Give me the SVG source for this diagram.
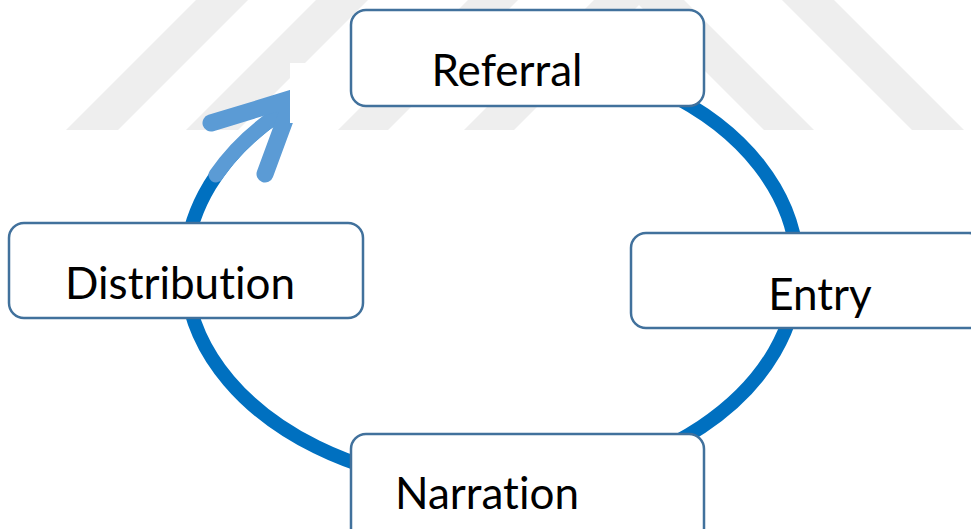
<svg xmlns="http://www.w3.org/2000/svg" width="971" height="529" viewBox="0 0 971 529">
  <style>
    .stripe { fill: #eeeeee; }
    .ring { fill: none; stroke: #0070C0; stroke-width: 14; }
    .ring-head { fill: none; stroke: #5B9BD5; stroke-linecap: round; stroke-linejoin: round; }
    .box { fill: #ffffff; stroke: #41719C; stroke-width: 2.5; }
    .label { font-family: Lato, "Liberation Sans", sans-serif; font-size: 44px; fill: #000000; text-anchor: middle; font-variant-ligatures: none; font-feature-settings: "liga" 0; }
  </style>

  <rect width="971" height="529" fill="#ffffff"/>

  <!-- faint diagonal background bands -->
  <g id="backdrop">
    <polygon class="stripe" points="196,0 248,0 118,130 66,130"/>
    <polygon class="stripe" points="316,0 368,0 238,130 186,130"/>
    <polygon class="stripe" points="468,0 518,0 388,130 338,130"/>
    <polygon class="stripe" points="594,0 644,0 514,130 464,130"/>
    <polygon class="stripe" points="634,0 684,0 814,130 764,130"/>
    <polygon class="stripe" points="782,0 834,0 964,130 912,130"/>
  </g>

  <!-- cycle connector: clockwise ellipse arc ending in an arrow at the upper left -->
  <g id="connectors">
    <path class="ring" d="M 544,57 A 306 216 0 1 1 284,111"/>
    <path class="ring-head" stroke-width="15" d="M 216,175 A 306 216 0 0 1 280,113"/>
    <polyline class="ring-head" stroke-width="17" points="211,123 293,98 265,174"/>
  </g>

  <!-- white patch over the arrow tip -->
  <rect x="290" y="63" width="32" height="60" fill="#ffffff"/>

  <g id="node-referral">
    <rect class="box" x="351" y="10" width="353" height="96" rx="15"/>
    <text class="label" x="507" y="86">Referral</text>
  </g>

  <g id="node-entry">
    <rect class="box" x="631" y="233" width="353" height="95" rx="15"/>
    <text class="label" x="820" y="310">Entry</text>
  </g>

  <g id="node-narration">
    <rect class="box" x="351" y="434" width="353" height="110" rx="15"/>
    <text class="label" x="487" y="509">Narration</text>
  </g>

  <g id="node-distribution">
    <rect class="box" x="9" y="223" width="354" height="95" rx="15"/>
    <text class="label" x="180" y="299">Distribution</text>
  </g>
</svg>
